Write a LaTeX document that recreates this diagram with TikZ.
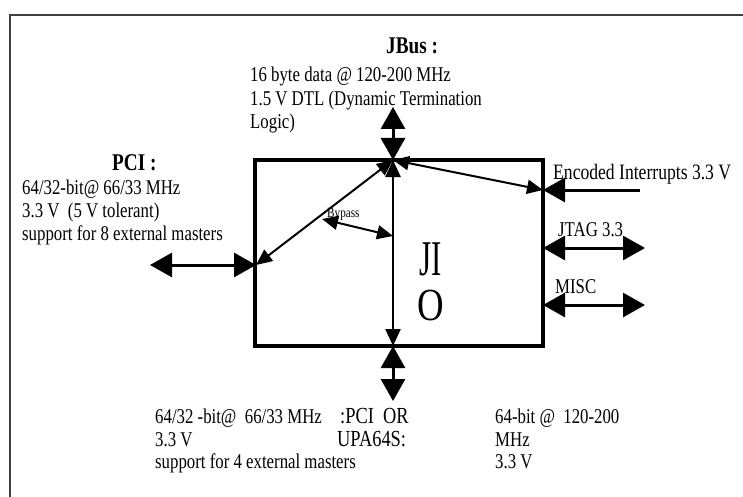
\documentclass[tikz,border=0pt]{standalone}
\usepackage{fontspec}
\setmainfont{Liberation Serif}[FakeStretch=0.8]
\usetikzlibrary{arrows.meta}
\begin{document}
\begin{tikzpicture}[x=1pt,y=-1pt,
  txt/.style={anchor=base west,inner sep=0pt,font=\fontsize{21}{24}\selectfont},
  btxt/.style={anchor=base west,inner sep=0pt,font=\fontsize{24}{27}\selectfont\bfseries},
  darr/.style={line width=3pt,{Triangle[length=22pt,width=24pt]}-{Triangle[length=22pt,width=24pt]}},
  sarr/.style={line width=3pt,-{Triangle[length=22pt,width=24pt]}},
  mid/.style={line width=2.5pt,{Triangle[length=17pt,width=15pt]}-{Triangle[length=17pt,width=15pt]}},
  thin/.style={line width=2pt,{Triangle[length=16pt,width=14pt]}-{Triangle[length=16pt,width=14pt]}}]
\useasboundingbox (0,0) rectangle (743,497);
\fill[white] (0,0) rectangle (743,497);
% outer frame (only left and top visible)
\draw[line width=2pt,color=black!75] (10,520) -- (10,15) -- (760,15);
% JIO box
\node[draw,line width=3.5pt,minimum width=288pt,minimum height=186pt,inner sep=0pt] (io) at (399,253) {};
% named points
\coordinate (top) at (393,160);
\coordinate (bot) at (393,346);
\coordinate (left) at (256,265);
\coordinate (rint) at (543,190);
\coordinate (rjtag) at (543,248);
\coordinate (rmisc) at (543,305);
\coordinate (jbusend) at (393,107);
\coordinate (pciend) at (150,265);
\coordinate (upaend) at (393,401);
\coordinate (intend) at (640,190);
\coordinate (jtagend) at (645,248);
\coordinate (miscend) at (645,305);
\coordinate (bpa) at (322,219);
\coordinate (bpb) at (393,236);
% connectors
\draw[darr] (jbusend) -- (top);
\draw[darr] (bot) -- (upaend);
\draw[darr] (pciend) -- (left);
\draw[mid] (top) -- (bot);
\draw[thin] (left) -- (top);
\draw[thin] (top) -- (rint);
\draw[thin] (bpa) -- (bpb);
\draw[sarr] (intend) -- (rint);
\draw[darr] (rjtag) -- (jtagend);
\draw[darr] (rmisc) -- (miscend);
% JBus text
\node[btxt] (jbus) at (386,54) {JBus :};
\node[txt] (jb1) at (250,82) {16 byte data @ 120-200 MHz};
\node[txt] (jb2) at (250,106) {1.5 V DTL (Dynamic Termination};
\node[txt] (jb3) at (250,129) {Logic)};
% PCI text
\node[btxt] (pci) at (112,171) {PCI :};
\node[txt] (p1) at (22,194) {64/32-bit@ 66/33 MHz};
\node[txt] (p2) at (22,217) {3.3 V \ (5 V tolerant)};
\node[txt] (p3) at (22,240) {support for 8 external masters};
% bypass
\node[anchor=base west,inner sep=0pt,font=\fontsize{14}{16}\selectfont] (bypass) at (327,217) {Bypass};
% right side
\node[txt,font=\fontsize{22}{25}\selectfont] (int) at (553,179) {Encoded Interrupts 3.3 V};
\node[txt] (jtag) at (558,236) {JTAG 3.3};
\node[txt] (misc) at (555,293) {MISC};
% JIO letters
\node[anchor=base west,inner sep=0pt,font=\fontsize{50}{52}\selectfont\addfontfeature{FakeStretch=0.62}] (ji) at (419,275) {JI};
\node[anchor=base west,inner sep=0pt,font=\fontsize{46}{50}\selectfont] (o) at (417,320) {O};
% bottom text
\node[txt] (b1) at (155,423) {64/32 -bit@ \ 66/33 MHz};
\node[txt] (b2) at (155,446) {3.3 V};
\node[txt] (b3) at (155,468) {support for 4 external masters};
\node[txt,font=\fontsize{23}{26}\selectfont] (u1) at (340,423) {:PCI \ OR};
\node[txt,font=\fontsize{23}{26}\selectfont] (u2) at (337,446) {UPA64S:};
\node[txt] (r1) at (495,423) {64-bit @ \ 120-200};
\node[txt] (r2) at (495,446) {MHz};
\node[txt] (r3) at (495,468) {3.3 V};
\end{tikzpicture}
\end{document}
